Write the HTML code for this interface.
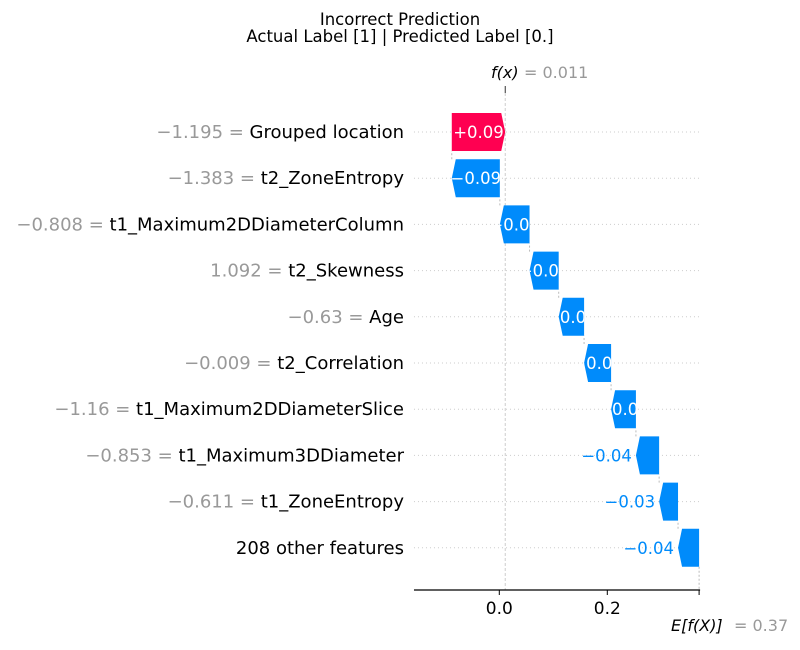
<!DOCTYPE html>
<html><head><meta charset="utf-8"><style>
html,body{margin:0;padding:0;background:#fff;}
svg{display:block;font-family:"DejaVu Sans","Liberation Sans",sans-serif;}
</style></head><body>
<svg id="chart" width="800" height="650" viewBox="0 0 800 650" xmlns="http://www.w3.org/2000/svg">
<defs id="defs"></defs>
<text x="400" y="25" font-size="16.5" text-anchor="middle" fill="#000">Incorrect Prediction</text>
<text x="400" y="42" font-size="16.5" text-anchor="middle" fill="#000">Actual Label [1] | Predicted Label [0.]</text>
<g id="plot"></g>
</svg>
<script>
const featureValues = ["\u22121.195","\u22121.383","\u22120.808","1.092","\u22120.63","\u22120.009","\u22121.16","\u22120.853","\u22120.611",""];
const featureNames = ["Grouped location","t2_ZoneEntropy","t1_Maximum2DDiameterColumn","t2_Skewness","Age","t2_Correlation","t1_Maximum2DDiameterSlice","t1_Maximum3DDiameter","t1_ZoneEntropy","208 other features"];
const shapValues = [0.099,-0.089,-0.055,-0.054,-0.047,-0.05,-0.046,-0.043,-0.035,-0.039];
const valueLabels = ["+0.09","\u22120.09","\u22120.05","\u22120.05","\u22120.05","\u22120.05","\u22120.05","\u22120.04","\u22120.03","\u22120.04"];
const baseValue = 0.37;
const fxValue = 0.011;
const xTicks = [0.0, 0.2];
const xTickLabels = ["0.0","0.2"];

const NS="http://www.w3.org/2000/svg";
const g=document.getElementById('plot');
const defs=document.getElementById('defs');
const X0=499.3, SCALE=540;
const x=v=>X0+v*SCALE;
const rowY=i=>132+i*46.2;
const xMin=-0.158, axisY=590, BH=38, HEAD=4;
function mk(tag,attrs,parent){const e=document.createElementNS(NS,tag);for(const k in attrs)e.setAttribute(k,attrs[k]);(parent||g).appendChild(e);return e;}

for(let i=0;i<featureNames.length;i++){
  const l=mk('line',{x1:x(xMin),x2:x(baseValue),y1:rowY(i),y2:rowY(i),stroke:'#ccc','stroke-width':1,'stroke-dasharray':'1,3'});
  
  
}
const fl=mk('line',{x1:x(fxValue),x2:x(fxValue),y1:93,y2:axisY,stroke:'#ccc','stroke-width':1,'stroke-dasharray':'3,2'});


const ft=mk('line',{x1:x(fxValue),x2:x(fxValue),y1:86,y2:93,stroke:'#333','stroke-width':1});


const ftx=mk('text',{x:491,y:78,'font-size':16,fill:'#000','font-style':'italic'});
ftx.textContent='f(x)';


const ftv=mk('text',{x:524,y:78,'font-size':16,fill:'#999'});
ftv.textContent='= '+fxValue;



let cum=baseValue;
const n=featureNames.length;
const ends=[];
for(let i=n-1;i>=0;i--){const s=cum;cum=cum+shapValues[i];ends[i]=[s,cum];}
for(let i=0;i<n;i++){
  const [s,e]=ends[i];
  const y=rowY(i), t=y-BH/2, b=y+BH/2;
  const pos=shapValues[i]>0;
  const col=pos?'#ff0051':'#008bfb';
  const xs=x(s), xe=x(e);
  let pts;
  if(pos){pts=[[xs,t],[xe-HEAD,t],[xe,y],[xe-HEAD,b],[xs,b]];}
  else{pts=[[xs,t],[xe+HEAD,t],[xe,y],[xe+HEAD,b],[xs,b]];}
  const ptsStr=pts.map(q=>q.join(',')).join(' ');
  const p=mk('polygon',{points:ptsStr,fill:col});
  
  
  if(i>0){
    const c=mk('line',{x1:xe,x2:xe,y1:t,y2:rowY(i-1)+BH/2,stroke:'#bbb','stroke-width':1,'stroke-dasharray':'2,2'});
    
    
  }
  const w=Math.abs(xe-xs);
  const lbl=mk('text',{y:y+6,'font-size':16.5});
  lbl.textContent=valueLabels[i];
  
  
  if(w>=24){
    const cp=mk('clipPath',{id:'clip'+i},defs);
    mk('polygon',{points:ptsStr},cp);
    lbl.setAttribute('x',(xs+xe)/2);lbl.setAttribute('text-anchor','middle');lbl.setAttribute('fill','#fff');
    lbl.setAttribute('clip-path','url(#clip'+i+')');
  } else {
    lbl.setAttribute('x',Math.min(xs,xe)-4);lbl.setAttribute('text-anchor','end');lbl.setAttribute('fill',col);
  }
  const yl=mk('text',{x:404,y:y+6,'font-size':18,'text-anchor':'end',fill:'#000'});
  
  
  if(featureValues[i]){
    const ts=document.createElementNS(NS,'tspan');ts.setAttribute('fill','#999');ts.textContent=featureValues[i]+' = ';yl.appendChild(ts);
  }
  const tn=document.createElementNS(NS,'tspan');tn.textContent=featureNames[i];yl.appendChild(tn);
}
const bc=mk('line',{x1:x(baseValue),x2:x(baseValue),y1:rowY(n-1)+BH/2,y2:axisY,stroke:'#bbb','stroke-width':1,'stroke-dasharray':'2,2'});



const ax=mk('line',{x1:x(xMin),x2:x(baseValue)+1,y1:axisY,y2:axisY,stroke:'#000','stroke-width':1.2});


xTicks.forEach((v,k)=>{
  const tk=mk('line',{x1:x(v),x2:x(v),y1:axisY,y2:axisY+5,stroke:'#000','stroke-width':1});
  
  
  const tl=mk('text',{x:x(v),y:axisY+24,'font-size':17,'text-anchor':'middle',fill:'#000'});
  tl.textContent=xTickLabels[k];
  
  
});
const et=mk('line',{x1:x(baseValue),x2:x(baseValue),y1:axisY,y2:axisY+5,stroke:'#000','stroke-width':1});


const el=mk('text',{x:671,y:631,'font-size':16,'font-style':'italic',fill:'#000'});
el.textContent='E[f(X)]';


const ev=mk('text',{x:734,y:631,'font-size':16,fill:'#999'});
ev.textContent='= '+baseValue;


</script>
</body></html>
